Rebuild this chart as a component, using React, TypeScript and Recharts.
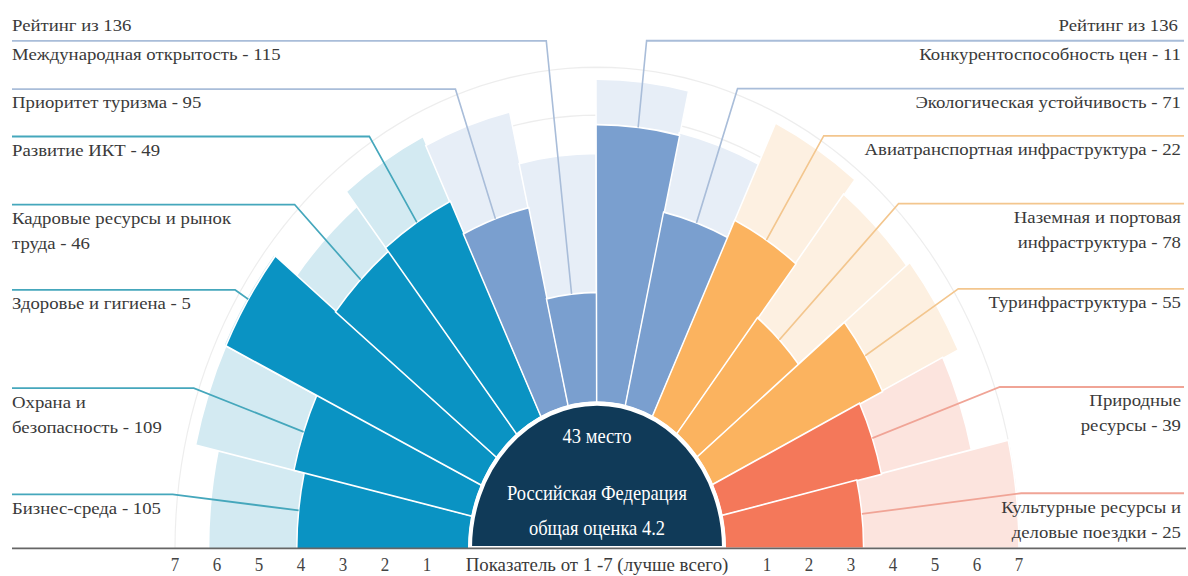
import React from 'react';
import {
  RadialBarChart,
  RadialBar,
  PolarAngleAxis,
  PolarRadiusAxis,
  PolarGrid,
  Cell,
  LabelList,
} from 'recharts';

// ---------- data ----------
const pillars = [
  'Бизнес-среда',
  'Охрана и\nбезопасность',
  'Здоровье и гигиена',
  'Кадровые ресурсы и рынок\nтруда',
  'Развитие ИКТ',
  'Приоритет  туризма',
  'Международная открытость',
  'Конкурентоспособность цен',
  'Экологическая устойчивость',
  'Авиатранспортная инфраструктура',
  'Наземная и портовая\nинфраструктура',
  'Туринфраструктура',
  'Природные\nресурсы',
  'Культурные ресурсы и\nделовые поездки',
];
const ranks = [105, 109, 5, 46, 49, 95, 115, 11, 71, 22, 78, 55, 39, 25];
const scores = [4.1, 4.35, 6.75, 4.9, 5.0, 4.25, 2.3, 5.8, 4.15, 4.55, 3.1, 4.5, 3.9, 3.3];
const bestScores = [6.2, 6.75, 6.8, 6.1, 6.5, 6.3, 5.2, 6.75, 5.85, 6.8, 6.4, 6.5, 6.1, 7.0];
const groups = [
  'teal', 'teal', 'teal', 'teal', 'teal', 'steel', 'steel',
  'steel', 'steel', 'orange', 'orange', 'orange', 'red', 'red',
];
const scaleTicks = [0, 1, 2, 3, 4, 5, 6, 7];
const totalCountries = 136;
const overallRank = 43;
const countryName = 'Российская Федерация';
const overallScore = 4.2;
const axisTitle = 'Показатель от 1 -7 (лучше всего)';

// ---------- styles ----------
const palette: Record<string, { bar: string; bg: string; line: string }> = {
  teal: { bar: '#0a93c3', bg: '#d3eaf2', line: '#45a7bc' },
  steel: { bar: '#7a9fcf', bg: '#e7eef7', line: '#a9bdd9' },
  orange: { bar: '#fbb35f', bg: '#fdf0e1', line: '#f3c68e' },
  red: { bar: '#f4785a', bg: '#fce4de', line: '#f0a496' },
};
const FONT = "'Liberation Serif', 'Times New Roman', serif";
const TEXT = '#3a3a3a';
const W = 1188;
const K = 1.14;
const H = 506;
const CX = 597;
const CY = 481;
const R0 = 128;
const R7 = 422;
const BAND = 180 / pillars.length;
const gridAngles = Array.from({ length: 91 }, (_, i) => i * 2);

const data = pillars.map((name, i) => ({
  name,
  score: scores[i],
  best: bestScores[i],
  rank: ranks[i],
}));

const RAD = Math.PI / 180;

const renderLeader = (props: any) => {
  const { viewBox, index } = props;
  if (!viewBox || viewBox.startAngle === undefined) return <g />;
  const cx = viewBox.cx ?? CX;
  const cy = viewBox.cy ?? CY;
  const mid = (viewBox.startAngle + viewBox.endAngle) / 2;
  const tipX = cx + viewBox.outerRadius * Math.cos(-mid * RAD);
  const tipY = cy + viewBox.outerRadius * Math.sin(-mid * RAD);
  const top = Math.abs(Math.cos(mid * RAD)) < 0.15;
  const er = R7 + (top ? 26 : 5);
  const ex = cx + er * Math.cos(-mid * RAD);
  const ey = cy + er * Math.sin(-mid * RAD);
  const left = mid > 90;
  const endX = left ? 12 : 1184;
  const g = palette[groups[index]];
  const lines = (pillars[index] + ' - ' + ranks[index]).split('\n');
  const tx = left ? 12 : 1181;
  return (
    <g key={`leader-${index}`}>
      <polyline
        points={`${endX},${ey} ${ex},${ey} ${tipX},${tipY}`}
        fill="none"
        stroke={g.line}
        strokeWidth={1.6}
      />
      <text
        transform={`translate(${tx},${ey + 17}) scale(1.25,1)`}
        x={0}
        y={0}
        textAnchor={left ? 'start' : 'end'}
        fontSize={15}
        fontFamily={FONT}
        fill={TEXT}
      >
        {lines.map((l, i) => (
          <tspan key={i} x={0} dy={i === 0 ? 0 : 22}>
            {l}
          </tspan>
        ))}
      </text>
    </g>
  );
};

const renderTick = (p: any) => {
  const v = p?.payload?.value;
  if (!v) return <g />;
  return (
    <text
      x={p.x}
      y={p.y + 20}
      textAnchor="middle"
      fontSize={17}
      fontFamily={FONT}
      fill="#444"
    >
      {v}
    </text>
  );
};

export default function App() {
  return (
    <div
      style={{
        position: 'absolute',
        left: 0,
        top: 0,
        width: 1188,
        height: 576,
        overflow: 'hidden',
        background: '#fff',
      }}
    >
      <div
        style={{
          position: 'absolute',
          left: 0,
          top: 0,
          width: W,
          height: H,
          transform: `scaleY(${K})`,
          transformOrigin: '0 0',
        }}
      >
        <RadialBarChart
          width={W}
          height={H}
          data={data}
          layout="centric"
          cx={CX}
          cy={CY}
          innerRadius={R0}
          outerRadius={R7}
          startAngle={180 - BAND}
          endAngle={-BAND}
          barCategoryGap={0}
          barGap={0}
          margin={{ top: 0, right: 0, bottom: 0, left: 0 }}
        >
          <PolarAngleAxis angleAxisId={0} type="category" dataKey="name" tick={false} axisLine={false} tickLine={false} />
          <PolarAngleAxis angleAxisId={1} type="category" dataKey="name" tick={false} axisLine={false} tickLine={false} />
          <PolarRadiusAxis radiusAxisId={0} type="number" domain={[0, 7]} ticks={scaleTicks} tickCount={8} angle={180} axisLine={false} tick={renderTick} />
          <PolarRadiusAxis radiusAxisId={1} type="number" domain={[0, 7]} ticks={scaleTicks} tickCount={8} angle={0} axisLine={false} tick={renderTick} />
          <RadialBar
            angleAxisId={1}
            radiusAxisId={1}
            dataKey="best"
            isAnimationActive={false}
            stroke="#fff"
            strokeWidth={1.5}
          >
            {data.map((d, i) => (
              <Cell key={`bg-${i}`} fill={palette[groups[i]].bg} />
            ))}
          </RadialBar>
          <RadialBar
            angleAxisId={0}
            radiusAxisId={0}
            dataKey="score"
            isAnimationActive={false}
            stroke="#fff"
            strokeWidth={1.5}
          >
            {data.map((d, i) => (
              <Cell key={`bar-${i}`} fill={palette[groups[i]].bar} />
            ))}
            <LabelList dataKey="score" content={renderLeader} />
          </RadialBar>
          <PolarGrid
            angleAxisId={0}
            radiusAxisId={0}
            gridType="polygon"
            radialLines={false}
            polarAngles={gridAngles}
            stroke="rgba(0,0,0,0.07)"
            strokeWidth={1.2}
          />
        </RadialBarChart>
        <svg
          width={W}
          height={H}
          style={{ position: 'absolute', left: 0, top: 0, pointerEvents: 'none' }}
        >
          <path
            d={`M ${CX - R0 + 1} ${CY} A ${R0 - 1} ${R0 - 1} 0 0 1 ${CX + R0 - 1} ${CY} Z`}
            fill="#103a58"
            stroke="#fff"
            strokeWidth={4}
          />
          <text x={CX} y={CY - 92} textAnchor="middle" fontSize={18.5} fontFamily={FONT} fill="#fff">
            {`${overallRank} место`}
          </text>
          <text x={CX} y={CY - 42} textAnchor="middle" fontSize={18.5} fontFamily={FONT} fill="#fff">
            {countryName}
          </text>
          <text x={CX} y={CY - 12} textAnchor="middle" fontSize={18.5} fontFamily={FONT} fill="#fff">
            {`общая оценка ${overallScore}`}
          </text>
          <line x1={12} y1={CY} x2={1186} y2={CY} stroke="#666" strokeWidth={1.5} />
          <text
            transform={`translate(${CX},${CY + 20}) scale(1.18,1)`}
            textAnchor="middle"
            fontSize={16}
            fontFamily={FONT}
            fill={TEXT}
          >
            {axisTitle}
          </text>
          <text
            transform={`translate(12,27) scale(1.25,1)`}
            textAnchor="start"
            fontSize={15}
            fontFamily={FONT}
            fill={TEXT}
          >
            {`Рейтинг из ${totalCountries}`}
          </text>
          <text
            transform={`translate(1178,27) scale(1.25,1)`}
            textAnchor="end"
            fontSize={15}
            fontFamily={FONT}
            fill={TEXT}
          >
            {`Рейтинг из ${totalCountries}`}
          </text>
        </svg>
      </div>
    </div>
  );
}
